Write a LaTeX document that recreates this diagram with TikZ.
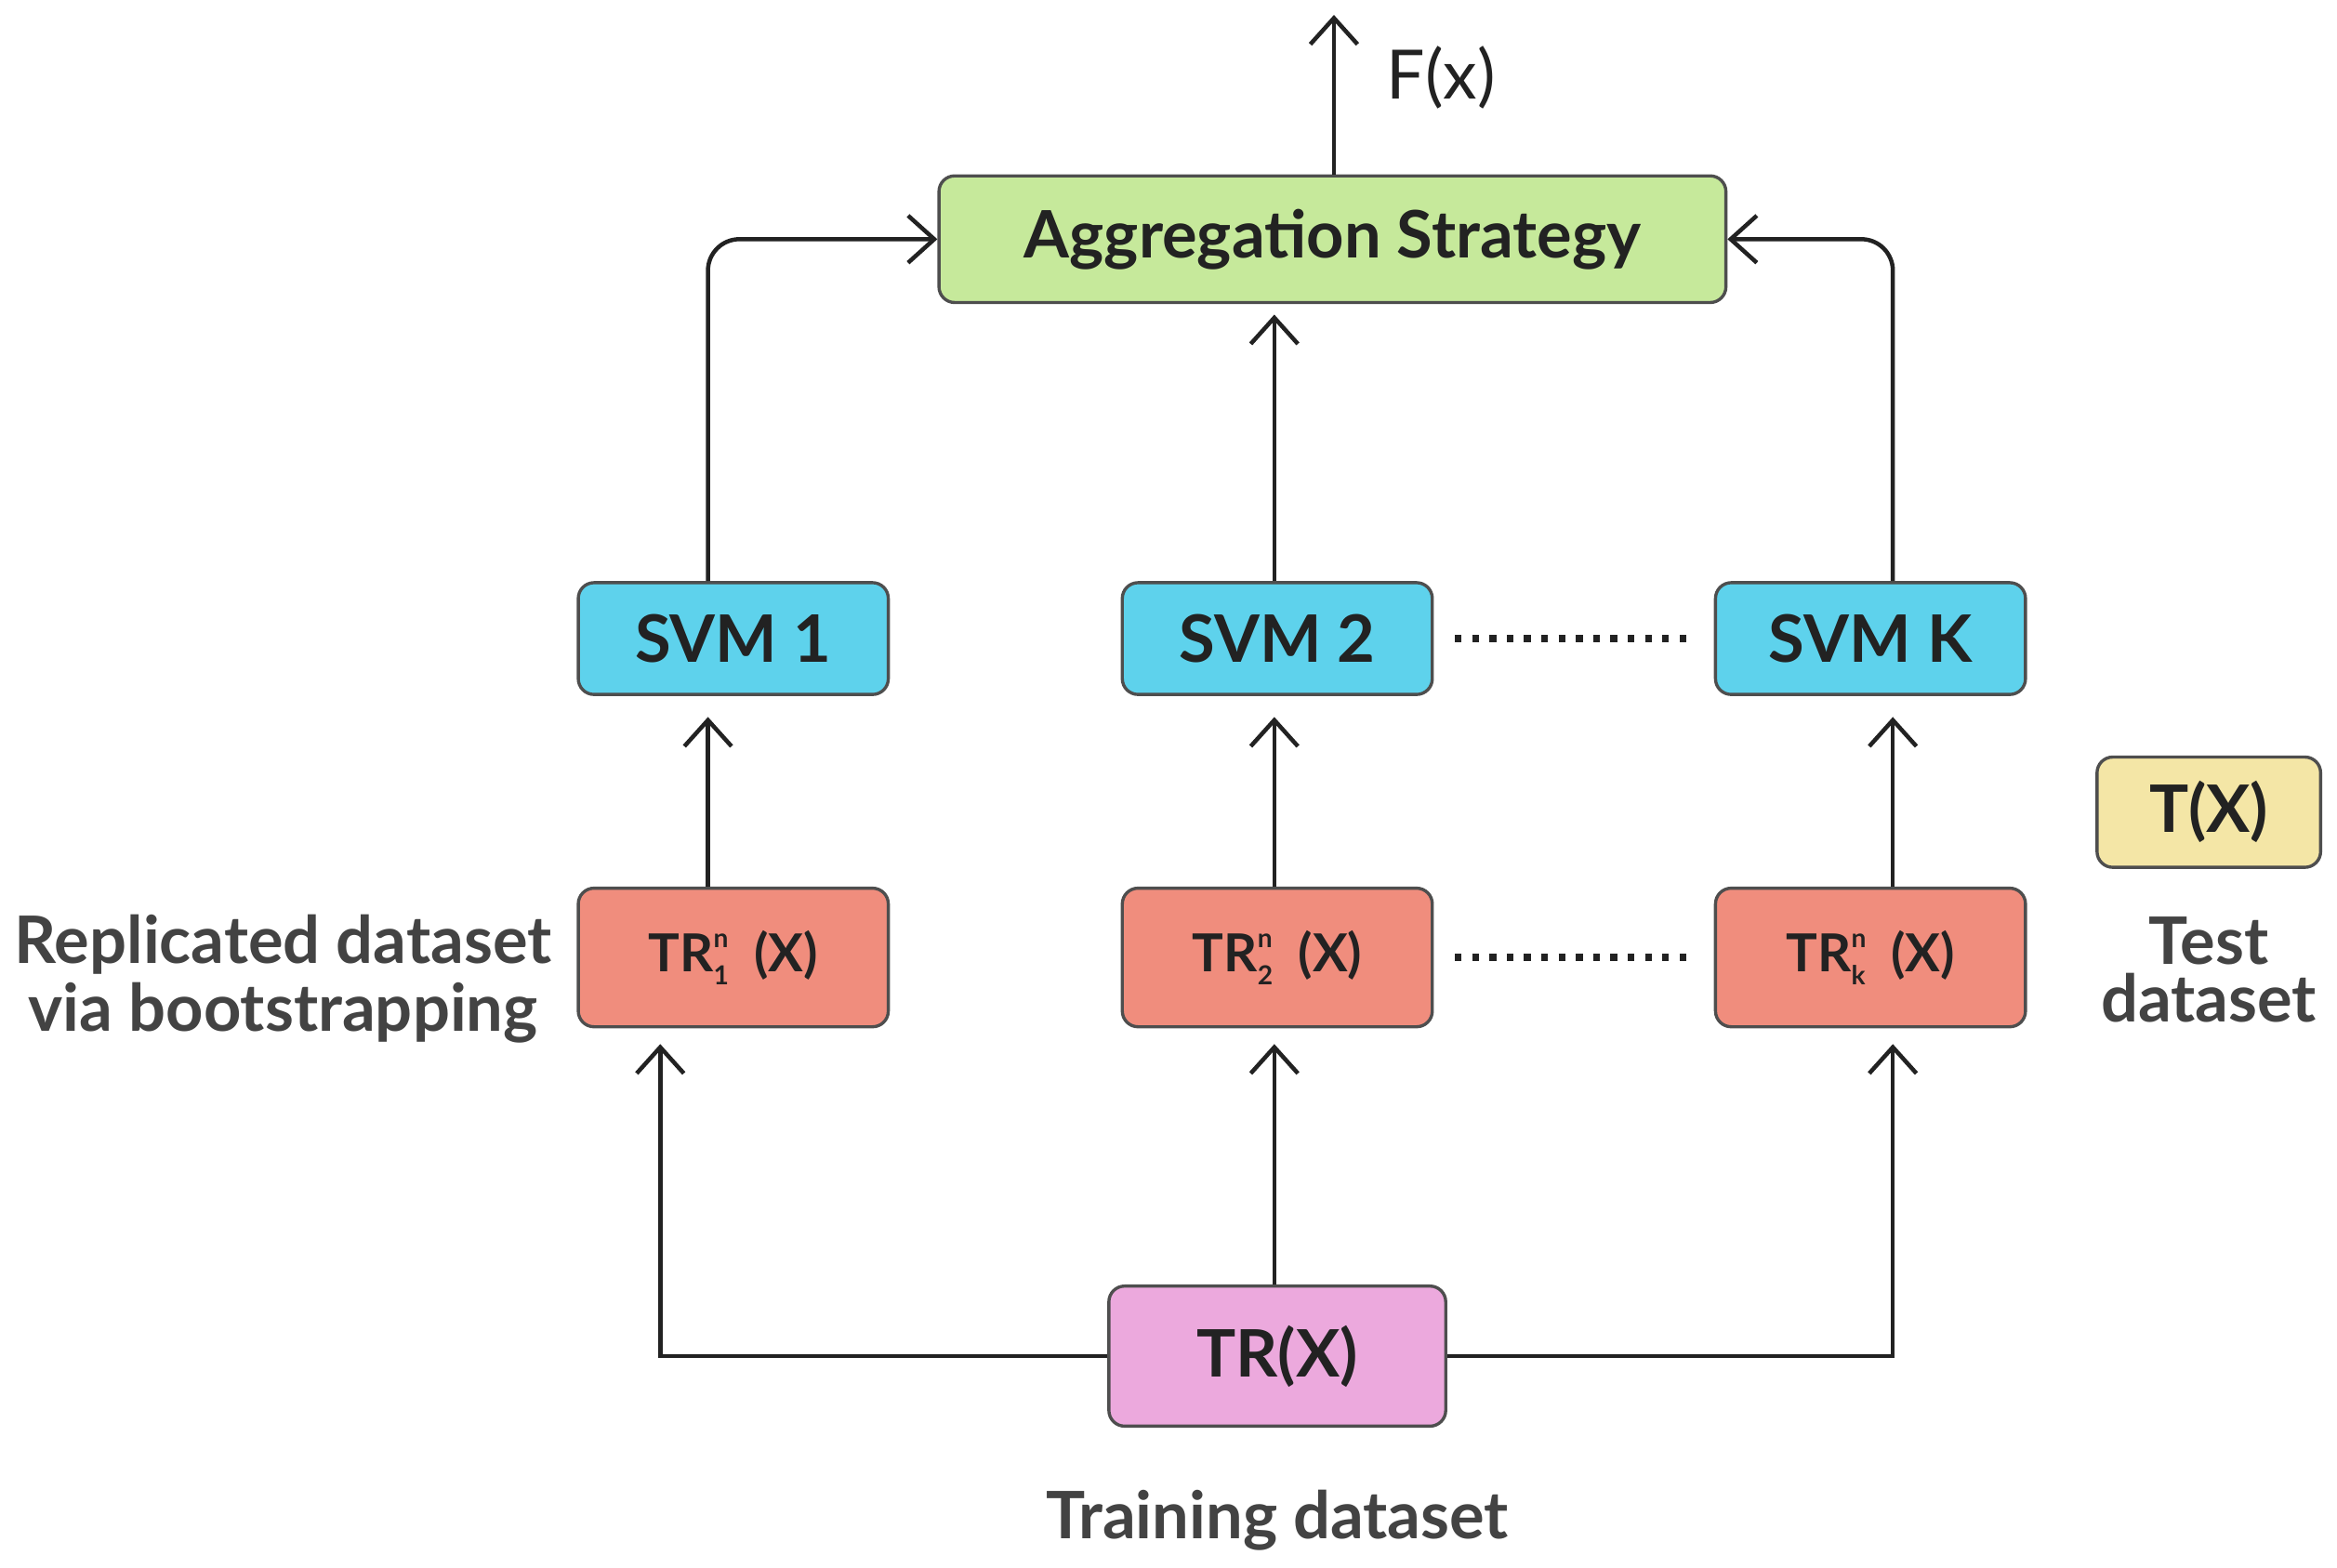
\documentclass[tikz,border=0pt]{standalone}
\usepackage{fontspec}
\setmainfont{Lato}
\usetikzlibrary{arrows.meta}
\definecolor{cgreen}{HTML}{C6E99B}
\definecolor{ccyan}{HTML}{5ED2EC}
\definecolor{csalmon}{HTML}{F08D7D}
\definecolor{cpink}{HTML}{ECA9DD}
\definecolor{cyellow}{HTML}{F4E6A6}
\definecolor{ink}{HTML}{222222}
\newcommand{\trsub}[1]{TR\rlap{\raisebox{4.5pt}{\fontsize{5}{5}\selectfont n}}\raisebox{-2.5pt}{\fontsize{5}{5}\selectfont #1}\ \ (X)}
\begin{document}
\begin{tikzpicture}[x=0.1mm,y=-0.1mm,
  box/.style={draw=ink!80,line width=0.6pt,rounded corners=3pt,inner sep=0pt,font=\bfseries\fontsize{12.5}{15}\selectfont,text=ink},
  sbox/.style={box,font=\bfseries\fontsize{10}{12}\selectfont},
  lab/.style={font=\bfseries\fontsize{12.5}{13}\selectfont,text=ink!85,align=center},
  arr/.style={-{Straight Barb[length=5pt,width=9pt]},line width=0.8pt,draw=ink},
  dot/.style={line width=1.3pt,dotted,draw=ink}]
\useasboundingbox (0,0) rectangle (1568,1052);
\node[box,fill=cgreen,minimum width=528*0.1mm,minimum height=85*0.1mm] (agg) at (894,160.5) {Aggregation Strategy};
\node[box,fill=ccyan,minimum width=208*0.1mm,minimum height=75*0.1mm] (s1) at (492,428.5) {SVM 1};
\node[box,fill=ccyan,minimum width=208*0.1mm,minimum height=75*0.1mm] (s2) at (857,428.5) {SVM 2};
\node[box,fill=ccyan,minimum width=208*0.1mm,minimum height=75*0.1mm] (sk) at (1255,428.5) {SVM K};
\node[sbox,fill=csalmon,minimum width=208*0.1mm,minimum height=93*0.1mm] (t1) at (492,642.5) {\trsub{1}};
\node[sbox,fill=csalmon,minimum width=208*0.1mm,minimum height=93*0.1mm] (t2) at (857,642.5) {\trsub{2}};
\node[sbox,fill=csalmon,minimum width=208*0.1mm,minimum height=93*0.1mm] (tk) at (1255,642.5) {\trsub{k}};
\node[box,fill=cpink,minimum width=226*0.1mm,minimum height=94*0.1mm] (tr) at (857,910) {TR(X)};
\node[box,fill=cyellow,minimum width=150*0.1mm,minimum height=74*0.1mm] (tx) at (1482,545) {T(X)};
\node[lab] (l1) at (190,657) {Replicated dataset\\via bootstrapping};
\node[lab] (l2) at (1482,651) {Test\\[-2pt]dataset};
\node[lab] (l3) at (857,1020) {Training dataset};
\coordinate (top) at (895,10);
\node[font=\fontsize{13}{15}\selectfont,text=ink] (fx) at (967,52) {F(x)};
\draw[arr] (agg.north -| top) -- (top);
\draw[arr,rounded corners=6pt] (s1.north -| 475,0) |- (agg.west);
\draw[arr,rounded corners=6pt] (sk.north -| 1270,0) |- (agg.east);
\draw[arr] (s2.north -| 855,0) -- ([yshift=-2pt]agg.south -| 855,0);
\draw[arr] (t1.north -| 475,0) -- ([yshift=-4pt]s1.south -| 475,0);
\draw[arr] (t2.north -| 855,0) -- ([yshift=-4pt]s2.south -| 855,0);
\draw[arr] (tk.north -| 1270,0) -- ([yshift=-4pt]sk.south -| 1270,0);
\draw[arr] (tr.west) -| ([yshift=-3pt]t1.south -| 443,0);
\draw[arr] (tr.north -| 855,0) -- ([yshift=-3pt]t2.south -| 855,0);
\draw[arr] (tr.east) -| ([yshift=-3pt]tk.south -| 1270,0);
\draw[dot] ([xshift=4pt]s2.east) -- ([xshift=-4pt]sk.west);
\draw[dot] ([xshift=4pt]t2.east) -- ([xshift=-4pt]tk.west);
\end{tikzpicture}
\end{document}
